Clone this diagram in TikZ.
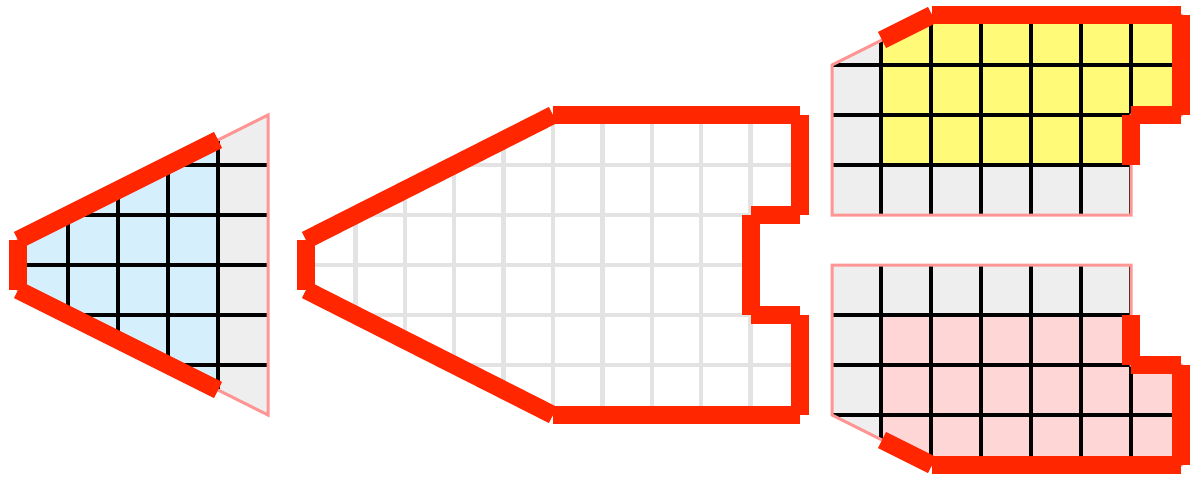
\documentclass[tikz,border=0pt]{standalone}
\definecolor{hred}{RGB}{255,38,0}
\definecolor{hpink}{RGB}{255,150,150}
\definecolor{hlgray}{RGB}{238,238,238}
\definecolor{hgrid}{RGB}{227,227,227}
\definecolor{hblue}{RGB}{213,240,252}
\definecolor{hyellow}{RGB}{255,250,120}
\definecolor{hrose}{RGB}{255,214,214}
\begin{document}
\begin{tikzpicture}[x=1pt,y=-1pt,
  redseg/.style={draw=hred,line width=18pt},
  border/.style={draw=hpink,line width=3pt,line join=miter},
  blackgrid/.style={draw=black,line width=3.5pt},
  graygrid/.style={draw=hgrid,line width=4.5pt}]
\useasboundingbox (0,0) rectangle (1200,480);
% ---------- panel 1 ----------
\def\Pone{(18,240) -- (268,115) -- (268,415) -- (18,290) -- cycle}
\fill[hlgray] \Pone;
\begin{scope}
  \clip \Pone;
  \fill[hblue] (0,0) rectangle (218,480);
  \foreach \x in {68,118,168,218} \draw[blackgrid] (\x,100) -- (\x,430);
  \foreach \y in {165,215,265,315,365} \draw[blackgrid] (0,\y) -- (280,\y);
\end{scope}
\draw[border] \Pone;
\draw[redseg] (18,240) -- (18,290);
\draw[redseg] (18,240) -- (218,140);
\draw[redseg] (18,290) -- (218,390);
% ---------- panel 2 ----------
\def\Ptwo{(306,240) -- (553,115) -- (800,115) -- (800,215) -- (750.6,215) -- (750.6,315) -- (800,315) -- (800,415) -- (553,415) -- (306,290) -- cycle}
\begin{scope}
  \clip \Ptwo;
  \foreach \x in {355.4,404.8,454.2,503.6,553,602.4,651.8,701.2,750.6} \draw[graygrid] (\x,100) -- (\x,430);
  \foreach \y in {165,215,265,315,365} \draw[graygrid] (290,\y) -- (820,\y);
\end{scope}
\draw[redseg] (306,240) -- (306,290);
\draw[redseg] (306,240) -- (553,115);
\draw[redseg] (553,115) -- (800,115);
\draw[redseg] (800,115) -- (800,215);
\draw[redseg] (800,215) -- (750.6,215);
\draw[redseg] (750.6,215) -- (750.6,315);
\draw[redseg] (750.6,315) -- (800,315);
\draw[redseg] (800,315) -- (800,415);
\draw[redseg] (800,415) -- (553,415);
\draw[redseg] (553,415) -- (306,290);
% ---------- panel 3 ----------
\def\Pthree{(832,65) -- (932,15) -- (1181,15) -- (1181,115) -- (1131,115) -- (1131,215) -- (832,215) -- cycle}
\fill[hlgray] \Pthree;
\begin{scope}
  \clip \Pthree;
  \fill[hyellow] (881,0) rectangle (1200,165);
  \foreach \x in {881,931,981,1031,1081,1131} \draw[blackgrid] (\x,0) -- (\x,230);
  \foreach \y in {65,115,165} \draw[blackgrid] (820,\y) -- (1200,\y);
\end{scope}
\draw[border] \Pthree;
\draw[redseg] (882,40) -- (932,15);
\draw[redseg] (932,15) -- (1181,15);
\draw[redseg] (1181,15) -- (1181,115);
\draw[redseg] (1181,115) -- (1131,115);
\draw[redseg] (1131,115) -- (1131,165);
% ---------- panel 4 ----------
\def\Pfour{(832,415) -- (932,465) -- (1181,465) -- (1181,365) -- (1131,365) -- (1131,265) -- (832,265) -- cycle}
\fill[hlgray] \Pfour;
\begin{scope}
  \clip \Pfour;
  \fill[hrose] (881,315) rectangle (1200,480);
  \foreach \x in {881,931,981,1031,1081,1131} \draw[blackgrid] (\x,250) -- (\x,480);
  \foreach \y in {315,365,415} \draw[blackgrid] (820,\y) -- (1200,\y);
\end{scope}
\draw[border] \Pfour;
\draw[redseg] (1131,315) -- (1131,365);
\draw[redseg] (1131,365) -- (1181,365);
\draw[redseg] (1181,365) -- (1181,465);
\draw[redseg] (1181,465) -- (932,465);
\draw[redseg] (932,465) -- (882,440);
\end{tikzpicture}
\end{document}
